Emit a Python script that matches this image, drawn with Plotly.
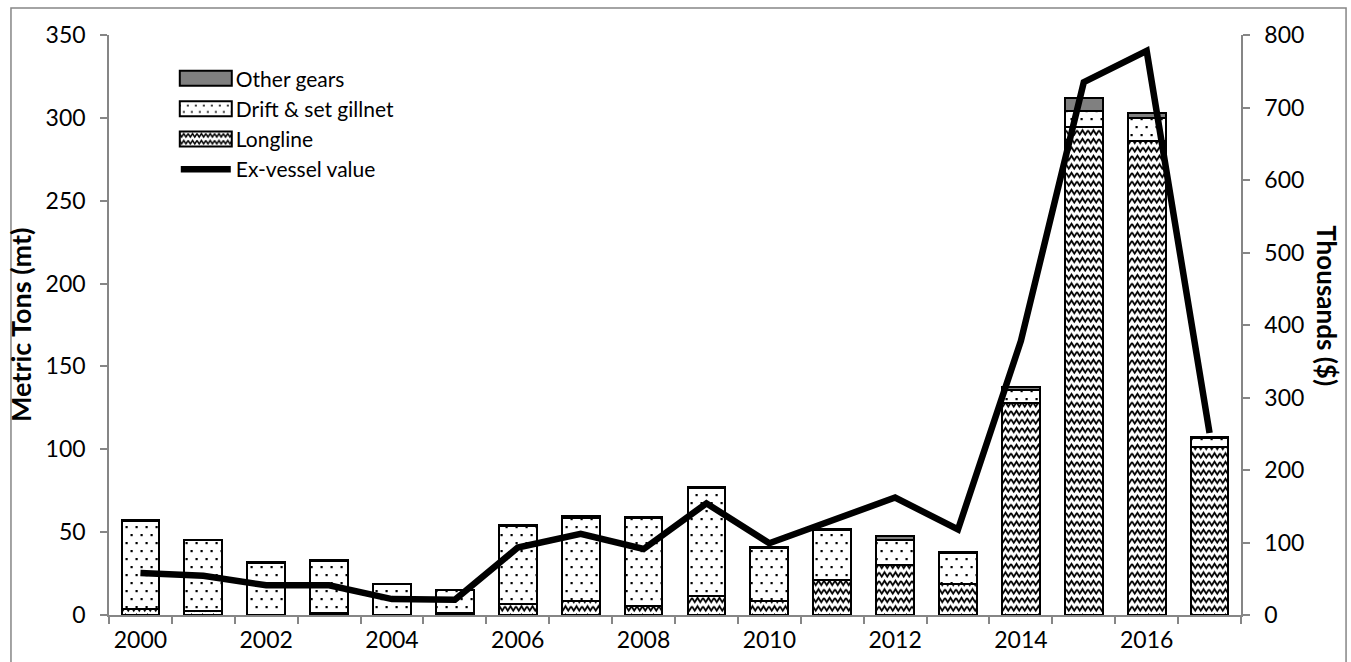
import plotly.graph_objects as go

# Annual landings by gear type (metric tons) and ex-vessel value (thousands of dollars)
years = list(range(2000, 2018))
longline = [3.6, 2.2, 0.3, 1.2, 0.2, 1.5, 6.6, 8.6, 5.2, 11.7, 8.2, 21.4, 30.4, 18.9, 127.8, 294.6, 286.0, 101.6]
gillnet = [53.4, 42.8, 31.2, 31.6, 18.3, 13.4, 47.3, 50.1, 53.3, 64.7, 32.2, 29.6, 15.0, 18.6, 7.7, 9.4, 14.0, 5.0]
other_gears = [0.5, 0.5, 0.3, 0.5, 0.5, 0.4, 0.5, 0.8, 0.5, 0.8, 0.5, 0.6, 2.0, 0.6, 2.0, 7.7, 3.0, 0.8]
ex_vessel = [58, 54, 41, 41, 22, 21, 93, 112, 91, 154, 99, 130, 162, 118, 378, 735, 778, 251]

label_years = list(range(2000, 2017, 2))
boundaries = [y - 0.5 for y in range(2000, 2019)]

FONT = "Lato"
GREY = "#868686"
outline = dict(color="black", width=2)

fig = go.Figure()

fig.add_trace(go.Bar(
    x=years, y=longline, name="Longline", uid="longline", legendrank=3,
    width=0.6,
    marker=dict(color="white", line=outline,
                pattern=dict(shape="-", fgcolor="black", bgcolor="white", size=8, solidity=0.15)),
))
fig.add_trace(go.Bar(
    x=years, y=gillnet, name="Drift & set gillnet", uid="gillnet", legendrank=2,
    width=0.6,
    marker=dict(color="white", line=outline,
                pattern=dict(shape=".", fgcolor="black", bgcolor="white", size=10, solidity=0.08)),
))
fig.add_trace(go.Bar(
    x=years, y=other_gears, name="Other gears", uid="other", legendrank=1,
    width=0.6,
    marker=dict(color="#808080", line=outline),
))
fig.add_trace(go.Scatter(
    x=years, y=ex_vessel, name="Ex-vessel value", yaxis="y2", legendrank=4,
    mode="lines", line=dict(color="black", width=6.5),
))

fig.update_layout(
    width=1351, height=662,
    margin=dict(l=109, r=110, t=35, b=47, autoexpand=False),
    paper_bgcolor="white", plot_bgcolor="white",
    barmode="stack",
    font=dict(family=FONT, size=23, color="black"),
    showlegend=True,
    legend=dict(x=0.059, y=0.96, xanchor="left", yanchor="top",
                traceorder="normal",
                bgcolor="rgba(0,0,0,0)", font=dict(family=FONT, size=21),
                itemwidth=50, tracegroupgap=0),
    xaxis=dict(
        range=[1999.5, 2017.5], showgrid=False, zeroline=False, automargin=False,
        showline=True, linecolor=GREY, linewidth=1.5,
        tickvals=label_years, ticktext=[str(y) for y in label_years], ticks="",
        ticklabelstandoff=4,
        minor=dict(tickvals=boundaries, ticks="outside", ticklen=7,
                   tickcolor=GREY, tickwidth=1.5),
    ),
    yaxis=dict(
        range=[0, 350], dtick=50, showgrid=False, zeroline=False, automargin=False,
        showline=True, linecolor=GREY, linewidth=1.5,
        ticks="outside", ticklen=7, tickcolor=GREY, tickwidth=1.5,
        ticklabelstandoff=10,
    ),
    yaxis2=dict(
        range=[0, 800], dtick=100, overlaying="y", side="right", automargin=False,
        showgrid=False, zeroline=False,
        showline=True, linecolor=GREY, linewidth=1.5,
        ticks="outside", ticklen=7, tickcolor=GREY, tickwidth=1.5,
        ticklabelstandoff=10,
    ),
    annotations=[
        dict(text="<b>Metric Tons (mt)</b>", xref="paper", yref="paper",
             x=-0.0786, y=0.5, xanchor="center", yanchor="middle",
             textangle=-90, showarrow=False,
             font=dict(family=FONT, size=27)),
        dict(text="<b>Thousands ($)</b>", xref="paper", yref="paper",
             x=1.076, y=0.534, xanchor="center", yanchor="middle",
             textangle=90, showarrow=False,
             font=dict(family=FONT, size=26)),
    ],
    shapes=[
        dict(type="rect", xref="paper", yref="paper",
             x0=-0.0866, x1=1.0928, y0=-0.12, y1=1.0466,
             line=dict(color=GREY, width=1.5), fillcolor="rgba(0,0,0,0)", layer="below"),
    ],
)

# Zigzag texture for longline, staggered dots for gillnet, wide legend swatches
post_js = """
var gd = document.getElementById('{plot_id}');
function restyleFills() {
  gd.querySelectorAll('pattern').forEach(function (p) {
    if (p.id.indexOf('longline') >= 0) {
      p.setAttribute('width', 11);
      p.setAttribute('height', 8.5);
      p.innerHTML = '<rect width="11" height="8.5" fill="white"/>' +
        '<path d="M0,1.8 L2.75,6.2 L5.5,1.8 L8.25,6.2 L11,1.8" fill="none" stroke="black" stroke-width="1.8"/>';
    } else if (p.id.indexOf('gillnet') >= 0) {
      p.setAttribute('width', 10);
      p.setAttribute('height', 16);
      p.innerHTML = '<rect width="10" height="16" fill="white"/>' +
        '<rect x="1.5" y="3" width="2.2" height="2.2" fill="black"/>' +
        '<rect x="6.5" y="11" width="2.2" height="2.2" fill="black"/>';
    }
  });
  gd.querySelectorAll('.legend .legendpoints path').forEach(function (el) {
    var d = (el.getAttribute('d') || '').replace(/\\s/g, '');
    if (d === 'M6,6H-6V-6H6Z') {
      el.setAttribute('d', 'M26,7.5H-26V-7.5H26Z');
    }
  });
}
restyleFills();
gd.on('plotly_afterplot', restyleFills);
"""

fig.write_html("out.html", post_script=post_js)
